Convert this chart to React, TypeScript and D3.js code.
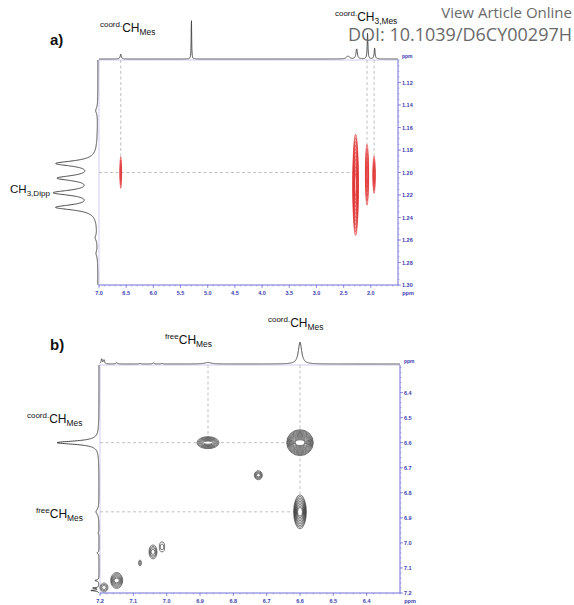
import React from 'react';
import * as d3 from 'd3';

const W = 574;
const H = 605;

// ---------------- Panel a data ----------------
const aXTicks = [7.0, 6.5, 6.0, 5.5, 5.0, 4.5, 4.0, 3.5, 3.0, 2.5, 2.0];
const aYTicks = [1.12, 1.14, 1.16, 1.18, 1.2, 1.22, 1.24, 1.26, 1.28, 1.3];
// top 1H trace peaks: [ppm, intensity, half-width(ppm)]
const aTopPeaks: [number, number, number][] = [
  [6.6, 5, 0.012],
  [5.3, 41, 0.005],
  [2.42, 3, 0.03],
  [2.26, 10, 0.015],
  [2.06, 26, 0.008],
  [1.93, 11, 0.01],
];
// left 1H trace peaks (CH3,Dipp)
const aLeftPeaks: [number, number, number][] = [
  [1.145, 2, 0.003],
  [1.192, 40, 0.0028],
  [1.205, 37, 0.0028],
  [1.218, 41, 0.0028],
  [1.231, 40, 0.0028],
  [1.258, 2, 0.003],
  [1.272, 1.5, 0.003],
];
// cross peaks: [x ppm, y ppm, x radius ppm, y radius ppm, levels]
const aCross: [number, number, number, number, number][] = [
  [6.6, 1.2, 0.016, 0.014, 4],
  [2.28, 1.211, 0.052, 0.045, 12],
  [2.07, 1.202, 0.03, 0.027, 6],
  [1.94, 1.202, 0.022, 0.0165, 5],
];
// guide lines: [x1, y1, x2, y2] in ppm
const aGuides: [number, number, number, number][] = [
  [6.6, 1.1, 6.6, 1.186],
  [2.07, 1.1, 2.07, 1.175],
  [1.94, 1.1, 1.94, 1.186],
  [7.0, 1.2, 2.33, 1.2],
];

// ---------------- Panel b data ----------------
const bXTicks = [7.2, 7.1, 7.0, 6.9, 6.8, 6.7, 6.6, 6.5, 6.4];
const bYTicks = [6.4, 6.5, 6.6, 6.7, 6.8, 6.9, 7.0, 7.1, 7.2];
const bTopPeaks: [number, number, number][] = [
  [7.195, 5, 0.002],
  [7.188, 4, 0.002],
  [7.15, 1.2, 0.003],
  [7.08, 0.6, 0.003],
  [7.04, 1, 0.003],
  [7.014, 0.6, 0.003],
  [6.876, 1.5, 0.012],
  [6.6, 22, 0.006],
];
const bLeftPeaks: [number, number, number][] = [
  [6.6, 42, 0.008],
  [6.876, 3, 0.012],
  [6.96, 0.8, 0.004],
  [7.04, 2, 0.003],
  [7.15, 4, 0.003],
  [7.18, 6, 0.002],
  [7.19, 8, 0.002],
];
const bCross: [number, number, number, number, number][] = [
  [6.876, 6.6, 0.033, 0.024, 7],
  [6.6, 6.6, 0.04, 0.052, 12],
  [6.6, 6.876, 0.019, 0.068, 9],
  [6.725, 6.73, 0.012, 0.018, 4],
  [7.041, 7.036, 0.012, 0.028, 4],
  [7.014, 7.016, 0.008, 0.02, 2],
  [7.08, 7.08, 0.004, 0.012, 2],
  [7.15, 7.15, 0.018, 0.032, 6],
  [7.188, 7.178, 0.012, 0.018, 3],
];
const bGuides: [number, number, number, number][] = [
  [6.876, 6.29, 6.876, 6.58],
  [6.6, 6.29, 6.6, 6.81],
  [7.2, 6.6, 6.64, 6.6],
  [7.2, 6.876, 6.62, 6.876],
];

type Panel = {
  x0: number; x1: number; y0: number; y1: number;
  xDom: [number, number]; yDom: [number, number];
};

const PA: Panel = { x0: 99, x1: 398, y0: 60, y1: 285, xDom: [7.0, 1.5], yDom: [1.1, 1.3] };
const PB: Panel = { x0: 100, x1: 400, y0: 365, y1: 593, xDom: [7.2, 6.3], yDom: [6.29, 7.2] };

const AX_COL = '#3b3bb0';
const AX_LINE = '#7070d8';
const FRAME = '#c4c4f0';
const FONT = '"Liberation Sans", Arial, sans-serif';

function lor(peaks: [number, number, number][], p: number) {
  let s = 0;
  for (const [c, h, w] of peaks) {
    const d = (p - c) / w;
    s += h / (1 + d * d);
  }
  return s;
}

function Label({ x, y, sup, main, sub, size = 12 }: { x: number; y: number; sup?: string; main: string; sub?: string; size?: number }) {
  const s2 = size * 0.7;
  return (
    <text x={x} y={y} fontFamily={FONT} fill="#111" fontSize={size}>
      {sup && <tspan fontSize={s2 * 0.95} dy={-5}>{sup}</tspan>}
      <tspan fontSize={size} dy={sup ? 5 : 0}>{main}</tspan>
      {sub && <tspan fontSize={s2} dy={3}>{sub}</tspan>}
    </text>
  );
}

function Spectrum2D({ P, xTicks, yTicks, xMinor, yMinor, fmt, yfmt, topPeaks, leftPeaks, cross, guides, cstroke, cfill, topScale, leftScale }: any) {
  const x = d3.scaleLinear().domain(P.xDom).range([P.x0, P.x1]);
  const y = d3.scaleLinear().domain(P.yDom).range([P.y0, P.y1]);
  const hTop = d3.scaleLinear().domain([0, 1]).range([0, topScale]);
  const hLeft = d3.scaleLinear().domain([0, 1]).range([0, leftScale]);

  const xs = d3.range(0, 1501).map((i) => P.xDom[0] + (P.xDom[1] - P.xDom[0]) * (i / 1500));
  const topLine = d3.line<number>().x((p) => x(p)).y((p) => P.y0 - 1 - hTop(lor(topPeaks, p)));
  const ys = d3.range(0, 1501).map((i) => P.yDom[0] + (P.yDom[1] - P.yDom[0]) * (i / 1500));
  const leftLine = d3.line<number>().x((p) => P.x0 - 1 - hLeft(lor(leftPeaks, p))).y((p) => y(p));

  const xMin = d3.range(Math.round(Math.min(...P.xDom) / xMinor), Math.round(Math.max(...P.xDom) / xMinor) + 1).map((i) => i * xMinor);
  const yMin = d3.range(Math.round(Math.min(...P.yDom) / yMinor), Math.round(Math.max(...P.yDom) / yMinor) + 1).map((i) => i * yMinor);

  return (
    <g>
      <rect x={P.x0} y={P.y0} width={P.x1 - P.x0} height={P.y1 - P.y0} fill="white" stroke={FRAME} strokeWidth={0.8} />
      {guides.map((g: number[], i: number) => (
        <line key={i} x1={x(g[0])} y1={y(g[1])} x2={x(g[2])} y2={y(g[3])} stroke="#b0b0b0" strokeWidth={0.8} strokeDasharray="3,2.5" />
      ))}
      {cross.map((c: number[], i: number) => {
        const [cx, cy, rx, ry, n] = c;
        const RX = Math.abs(x(cx + rx) - x(cx));
        const RY = Math.abs(y(cy + ry) - y(cy));
        return (
          <g key={i}>
            {d3.range(n).map((k) => {
              const f = 1 - (k / n) * 0.85;
              return (
                <ellipse key={k} cx={x(cx)} cy={y(cy)} rx={Math.max(RX * Math.pow(f, 0.7), 0.4)} ry={RY * f}
                  fill={k === 0 ? cfill : 'none'} stroke={cstroke} strokeWidth={0.6} />
              );
            })}
          </g>
        );
      })}
      <path d={topLine(xs) || ''} fill="none" stroke="#444" strokeWidth={0.9} />
      <path d={leftLine(ys) || ''} fill="none" stroke="#333" strokeWidth={0.9} />
      {/* bottom axis */}
      <line x1={P.x0} x2={P.x1} y1={P.y1} y2={P.y1} stroke={AX_LINE} strokeWidth={0.8} />
      {xMin.map((v, i) => (
        <line key={'xm' + i} x1={x(v)} x2={x(v)} y1={P.y1} y2={P.y1 + 1.5} stroke={AX_LINE} strokeWidth={0.5} />
      ))}
      {xTicks.map((v: number, i: number) => (
        <g key={'xt' + i}>
          <line x1={x(v)} x2={x(v)} y1={P.y1} y2={P.y1 + 3} stroke={AX_LINE} strokeWidth={0.7} />
          <text x={x(v)} y={P.y1 + 10} textAnchor="middle" fontSize={5.5} fontWeight="bold" fill={AX_COL} fontFamily={FONT}>{fmt(v)}</text>
        </g>
      ))}
      <text x={P.x1 + 10} y={P.y1 + 10} textAnchor="middle" fontSize={5.5} fontWeight="bold" fill={AX_COL} fontFamily={FONT}>ppm</text>
      {/* right axis */}
      <line x1={P.x1} x2={P.x1} y1={P.y0} y2={P.y1} stroke={AX_LINE} strokeWidth={0.8} />
      {yMin.map((v, i) => (
        <line key={'ym' + i} x1={P.x1} x2={P.x1 + 1.5} y1={y(v)} y2={y(v)} stroke={AX_LINE} strokeWidth={0.5} />
      ))}
      {yTicks.map((v: number, i: number) => (
        <g key={'yt' + i}>
          <line x1={P.x1} x2={P.x1 + 3} y1={y(v)} y2={y(v)} stroke={AX_LINE} strokeWidth={0.7} />
          <text x={P.x1 + 4} y={y(v) + 2} fontSize={5.5} fontWeight="bold" fill={AX_COL} fontFamily={FONT}>{yfmt(v)}</text>
        </g>
      ))}
      <text x={P.x1 + 4} y={P.y0 - 2} fontSize={5} fontWeight="bold" fill={AX_COL} fontFamily={FONT}>ppm</text>
    </g>
  );
}

export default function App() {
  return (
    <svg width={W} height={H} style={{ position: 'absolute', left: 0, top: 0, background: 'white' }}>
      <rect width={W} height={H} fill="white" />
      <Spectrum2D P={PA} xTicks={aXTicks} yTicks={aYTicks} xMinor={0.1} yMinor={0.005}
        fmt={(v: number) => v.toFixed(1)} yfmt={(v: number) => v.toFixed(2)}
        topPeaks={aTopPeaks} leftPeaks={aLeftPeaks} cross={aCross} guides={aGuides}
        cstroke="#e03434" cfill="#f6c4c4" topScale={1} leftScale={1} />
      <Spectrum2D P={PB} xTicks={bXTicks} yTicks={bYTicks} xMinor={0.02} yMinor={0.02}
        fmt={(v: number) => v.toFixed(1)} yfmt={(v: number) => v.toFixed(1)}
        topPeaks={bTopPeaks} leftPeaks={bLeftPeaks} cross={bCross} guides={bGuides}
        cstroke="#222" cfill="white" topScale={1} leftScale={1} />

      {/* panel labels */}
      <text x={50} y={45} fontFamily={FONT} fontWeight="bold" fontSize={15} fill="#111">a)</text>
      <text x={50} y={350} fontFamily={FONT} fontWeight="bold" fontSize={15} fill="#111">b)</text>

      <Label x={100} y={32} sup="coord." main="CH" sub="Mes" />
      <Label x={335} y={21} sup="coord." main="CH" sub="3,Mes" />
      <Label x={10} y={193} main="CH" sub="3,Dipp" size={11.5} />

      <Label x={165} y={344} sup="free" main="CH" sub="Mes" />
      <Label x={268} y={327} sup="coord." main="CH" sub="Mes" />
      <Label x={27} y={423} sup="coord." main="CH" sub="Mes" />
      <Label x={36} y={518} sup="free" main="CH" sub="Mes" />

      {/* publisher watermark */}
      <text x={572} y={18} textAnchor="end" fontFamily='"Open Sans", sans-serif' fontSize={15} fill="#6a6a6a">View Article Online</text>
      <text x={572} y={41} textAnchor="end" fontFamily='"Open Sans", sans-serif' fontSize={18} fill="#6a6a6a">DOI: 10.1039/D6CY00297H</text>
    </svg>
  );
}
